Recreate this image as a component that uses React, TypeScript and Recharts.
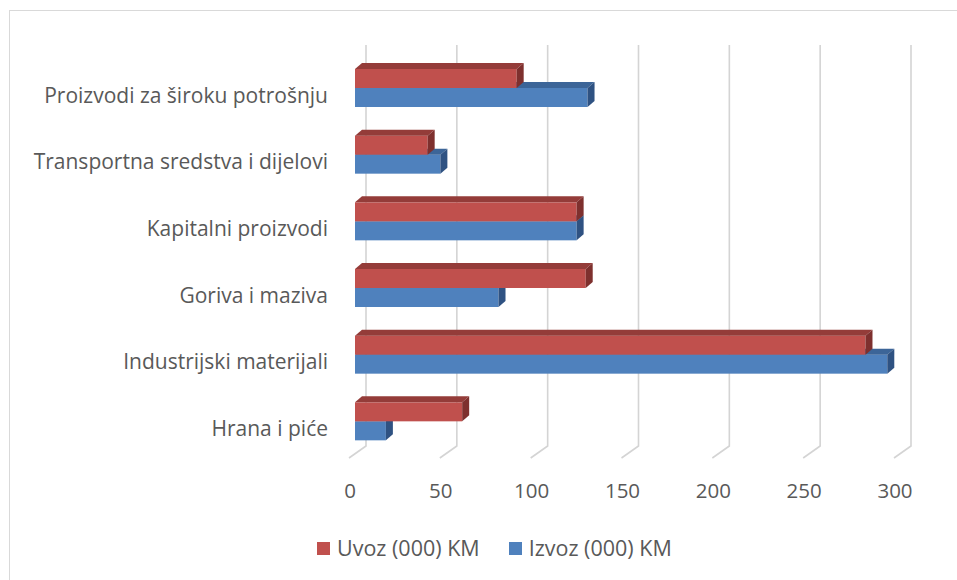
import { BarChart, Bar, XAxis, YAxis, CartesianGrid } from "recharts";

const categories = [
  "Proizvodi za široku potrošnju",
  "Transportna sredstva i dijelovi",
  "Kapitalni proizvodi",
  "Goriva i maziva",
  "Industrijski materijali",
  "Hrana i piće",
];
const uvoz = [89, 40, 122, 127, 281, 59];
const izvoz = [128, 47, 122, 79, 293, 17];
const xTicks = [0, 50, 100, 150, 200, 250, 300];

const data = categories.map((name, i) => ({ name, uvoz: uvoz[i], izvoz: izvoz[i] }));

const W = 957;
const H = 580;
const FONT = "'Open Sans', sans-serif";
const FS = 21;
const TEXT = "#595959";
const RED = { front: "#C0504D", top: "#943C39", side: "#7E302E" };
const BLUE = { front: "#4F81BD", top: "#3C6598", side: "#2F5282" };
const DX = 7;
const DY = 6;

function Box3D(props: any) {
  const { x, y, width, height, c } = props;
  if (width == null || height == null) return <g />;
  const x2 = x + width;
  const y2 = y + height;
  return (
    <g>
      <rect x={x} y={y} width={width} height={height} fill={c.front} />
      <polygon points={`${x},${y} ${x + DX},${y - DY} ${x2 + DX},${y - DY} ${x2},${y}`} fill={c.top} />
      <polygon points={`${x2},${y} ${x2 + DX},${y - DY} ${x2 + DX},${y2 - DY} ${x2},${y2}`} fill={c.side} />
    </g>
  );
}

function GridLine(props: any) {
  const { x1, y1, y2, index } = props;
  return (
    <polyline
      key={`gl-${index}`}
      points={`${x1 + 11},${y1 - 10} ${x1 + 11},${y2 - 9} ${x1 - 6},${y2 + 3}`}
      fill="none"
      stroke="#D4D4D4"
      strokeWidth={1.6}
    />
  );
}

function XTick(props: any) {
  const { x, y, payload } = props;
  return (
    <text x={x - 5} y={y} dy="0.71em" textAnchor="middle" fill={TEXT} fontSize={20.5} fontFamily={FONT}>
      {payload.value}
    </text>
  );
}

function YTick(props: any) {
  const { x, y, payload } = props;
  return (
    <text x={x} y={y + 7} dy="0.35em" textAnchor="end" fill={TEXT} fontSize={FS} fontFamily={FONT}>
      {payload.value}
    </text>
  );
}

const margin = { top: 55, right: 57, left: 0, bottom: 95 };

// two identical charts stacked so the red bars sit in front of the blue ones
function Layer({ front }: { front: boolean }) {
  return (
    <BarChart width={W} height={H} data={data} layout="vertical" margin={margin} barSize={19} barGap={0}>
      {!front && <CartesianGrid horizontal={false} vertical={GridLine} />}
      <XAxis
        type="number"
        domain={[0, 300]}
        ticks={xTicks}
        axisLine={false}
        tickLine={false}
        tickSize={0}
        tickMargin={28}
        height={30}
        tick={front ? false : XTick}
      />
      <YAxis
        type="category"
        dataKey="name"
        width={355}
        axisLine={false}
        tickLine={false}
        tickSize={0}
        tickMargin={27}
        tick={front ? false : YTick}
      />
      <Bar
        dataKey="uvoz"
        fill={RED.front}
        isAnimationActive={false}
        shape={(p: any) => (front ? <Box3D {...p} c={RED} /> : <g />)}
      />
      <Bar
        dataKey="izvoz"
        fill={BLUE.front}
        isAnimationActive={false}
        shape={(p: any) => (front ? <g /> : <Box3D {...p} c={BLUE} />)}
      />
    </BarChart>
  );
}

function LegendItem({ color, label }: { color: string; label: string }) {
  return (
    <div style={{ display: "flex", alignItems: "center", marginRight: 29 }}>
      <span style={{ width: 13, height: 13, background: color, marginRight: 7, display: "inline-block" }} />
      <span>{label}</span>
    </div>
  );
}

export default function App() {
  return (
    <div
      style={{
        position: "absolute",
        left: 0,
        top: 0,
        width: W,
        height: H,
        overflow: "hidden",
        background: "#fff",
        fontFamily: FONT,
      }}
    >
      <div
        style={{
          position: "absolute",
          left: 9,
          top: 10,
          width: W + 20,
          height: H + 20,
          border: "1px solid #D9D9D9",
        }}
      />
      <div style={{ position: "absolute", left: 0, top: 0 }}>
        <Layer front={false} />
      </div>
      <div style={{ position: "absolute", left: 0, top: 0 }}>
        <Layer front={true} />
      </div>
      <div
        style={{
          position: "absolute",
          left: 317,
          top: 533,
          display: "flex",
          fontSize: 21.5,
          lineHeight: "30px",
          color: TEXT,
        }}
      >
        <LegendItem color={RED.front} label="Uvoz (000) KM" />
        <LegendItem color={BLUE.front} label="Izvoz (000) KM" />
      </div>
    </div>
  );
}
